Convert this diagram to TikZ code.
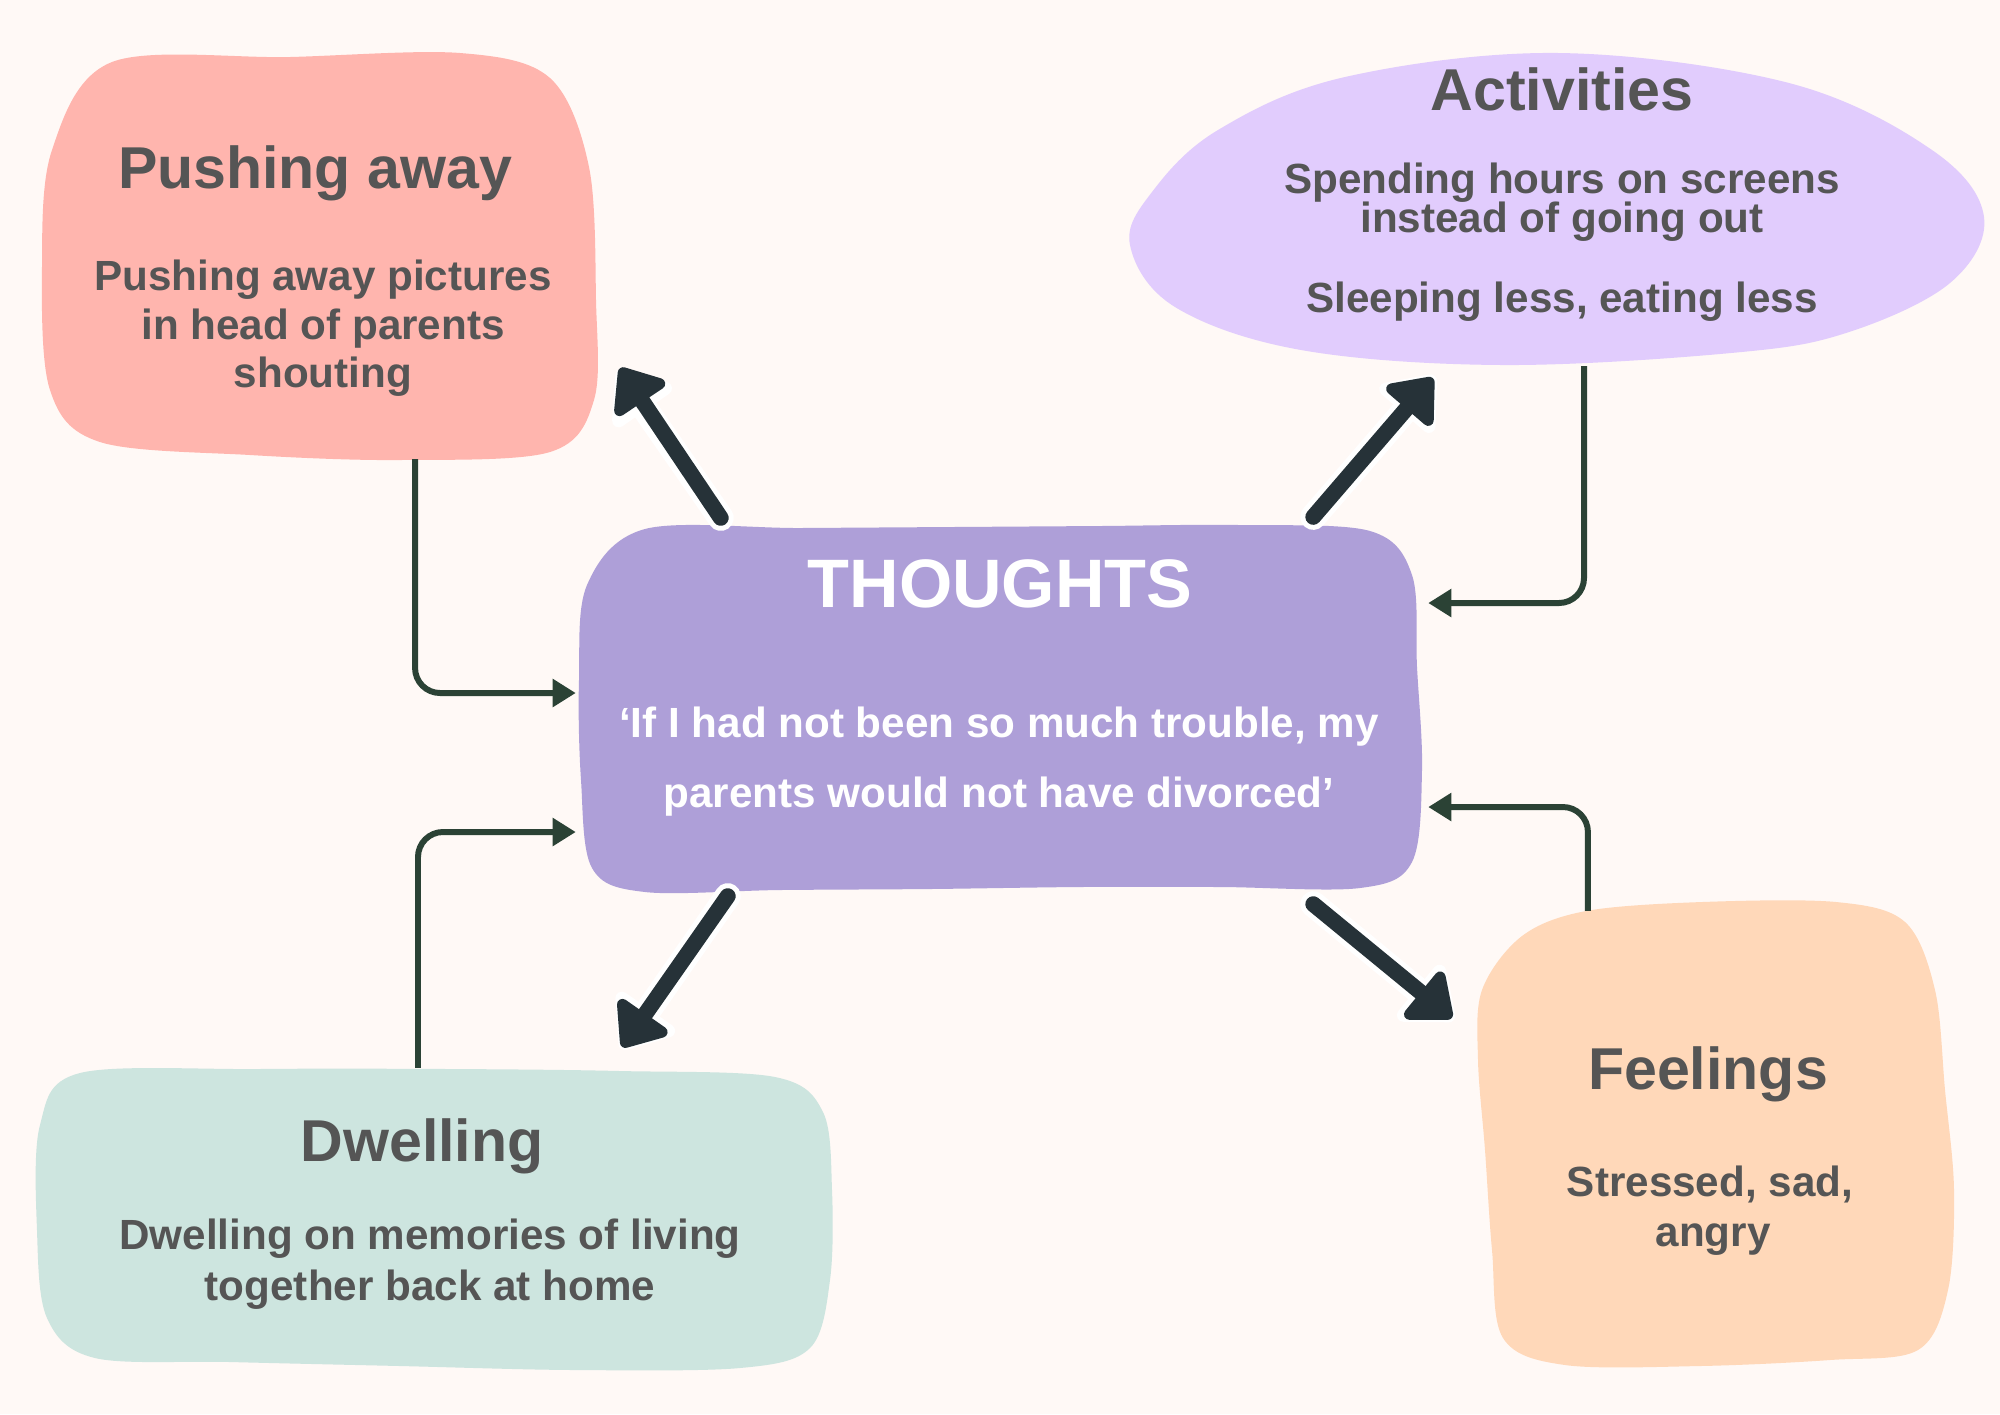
\documentclass[tikz,border=0pt]{standalone}
\usepackage{fontspec}
\setmainfont{Liberation Sans}
\usetikzlibrary{arrows.meta}
\definecolor{bgc}{HTML}{FFF9F6}
\definecolor{pushc}{HTML}{FFB5AE}
\definecolor{actc}{HTML}{E1CCFD}
\definecolor{thouc}{HTML}{AE9FD8}
\definecolor{dwelc}{HTML}{CDE5DF}
\definecolor{feelc}{HTML}{FFD8B9}
\definecolor{txtc}{HTML}{555555}
\definecolor{arrc}{HTML}{263238}
\definecolor{linec}{HTML}{2B4235}
\begin{document}
\begin{tikzpicture}[x=0.01cm,y=-0.01cm,
  area/.style={draw=none,fill=none,inner sep=0pt,outer sep=0pt,rectangle},
  blob/.style={smooth cycle,tension=0.55},
  ttl/.style={anchor=base,inner sep=0pt,text=txtc,font=\fontsize{16.8}{20}\selectfont\bfseries},
  bod/.style={anchor=base,inner sep=0pt,text=txtc,font=\fontsize{12}{14}\selectfont\bfseries},
  link/.style={draw=linec,line width=1.7pt,rounded corners=0.25cm,-{Triangle[length=6.6pt,width=7.7pt]}},
  halo/.style={draw=white,line width=7.4pt,line cap=round,-{Triangle[length=15pt,width=23pt,round]}},
  bigarrow/.style={draw=arrc,line width=4.5pt,line cap=round,-{Triangle[length=12.5pt,width=19.5pt,round]}}
]
\useasboundingbox (0,0) rectangle (2000,1414);
\fill[bgc] (0,0) rectangle (2000,1414);

% blob shapes
\fill[pushc] plot[blob] coordinates {(112,62) (290,57) (460,53) (550,78) (589,167) (596,300) (594,400) (550,452) (400,460) (250,455) (100,442) (50,390) (42,267) (52,150)};
\fill[actc] plot[smooth cycle,tension=0.6] coordinates {(1559,53) (1789,83) (1932,150) (1984,217) (1950,283) (1846,333) (1731,353) (1502,365) (1301,350) (1175,307) (1130,245) (1152,192) (1218,130) (1345,77)};
\fill[thouc] plot[blob] coordinates {(645,529) (800,528) (952,527) (1100,526) (1239,525) (1370,531) (1412,575) (1417,667) (1422,770) (1412,862) (1360,888) (1220,887) (1080,887) (930,889) (780,890) (645,892) (592,868) (581,780) (579,680) (587,585)};
\fill[dwelc] plot[blob] coordinates {(80,1073) (258,1069) (450,1069) (620,1071) (775,1077) (823,1112) (832,1190) (830,1280) (810,1348) (740,1368) (574,1370) (400,1366) (230,1362) (95,1358) (47,1318) (37,1230) (40,1125)};
\fill[feelc] plot[blob] coordinates {(1586,911) (1702,902) (1836,902) (1905,922) (1935,990) (1945,1090) (1954,1190) (1948,1290) (1918,1350) (1830,1360) (1700,1366) (1565,1365) (1503,1338) (1492,1250) (1485,1150) (1478,1060) (1482,990) (1522,936)};

% box areas (for anchoring)
\node[area,minimum width=5.54cm,minimum height=4.06cm] (push) at (319,256) {};
\node[area,minimum width=8.54cm,minimum height=3.13cm] (act) at (1557,209.5) {};
\node[area,minimum width=8.44cm,minimum height=3.68cm] (thou) at (1001,709) {};
\node[area,minimum width=7.96cm,minimum height=3.01cm] (dwel) at (434,1219.5) {};
\node[area,minimum width=4.79cm,minimum height=4.64cm] (feel) at (1714.5,1134) {};

% texts
\node[ttl] (pushT) at (315,188) {Pushing away};
\node[bod] (push1) at (323,290) {Pushing away pictures};
\node[bod] (push2) at (323,339) {in head of parents};
\node[bod] (push3) at (323,387) {shouting};

\node[ttl] (actT) at (1562,110) {Activities};
\node[bod] (act1) at (1562,193) {Spending hours on screens};
\node[bod] (act2) at (1562,232) {instead of going out};
\node[bod] (act3) at (1562,312) {Sleeping less, eating less};

\node[anchor=base,inner sep=0pt,text=white,font=\fontsize{19.5}{23}\selectfont\bfseries] (thouT) at (1000,607) {THOUGHTS};
\node[bod,text=white] (thou1) at (999,737) {‘If I had not been so much trouble, my};
\node[bod,text=white] (thou2) at (999,807) {parents would not have divorced’};

\node[ttl] (dwelT) at (422,1161) {Dwelling};
\node[bod] (dwel1) at (430,1249) {Dwelling on memories of living};
\node[bod] (dwel2) at (430,1300) {together back at home};

\node[ttl] (feelT) at (1708,1089) {Feelings};
\node[bod] (feel1) at (1710,1196) {Stressed, sad,};
\node[bod] (feel2) at (1713,1246) {angry};

% thin connectors
\draw[link] ([xshift=0.96cm]push.south) |- ([shift={(-3,-16)}]thou.west);
\draw[link] ([xshift=0.27cm]act.south) |- ([shift={(5,-106)}]thou.east);
\draw[link] ([xshift=-0.16cm,yshift=0.01cm]dwel.north) |- ([shift={(-3,123)}]thou.west);
\draw[link] ([xshift=-1.265cm,yshift=-0.09cm]feel.north) |- ([shift={(5,98)}]thou.east);

% thick arrows
\draw[halo] ([shift={(142,-7)}]thou.north west) -- ([shift={(22,-89)}]push.south east);
\draw[bigarrow] ([shift={(142,-7)}]thou.north west) -- ([shift={(24,-91)}]push.south east);
\draw[halo] ([shift={(-110,-8)}]thou.north east) -- ([shift={(305,10)}]act.south west);
\draw[bigarrow] ([shift={(-110,-8)}]thou.north east) -- ([shift={(303,12)}]act.south west);
\draw[halo] ([shift={(149,3)}]thou.south west) -- ([shift={(-211,-20)}]dwel.north east);
\draw[bigarrow] ([shift={(149,3)}]thou.south west) -- ([shift={(-210,-22)}]dwel.north east);
\draw[halo] ([shift={(-110,11)}]thou.south east) -- ([shift={(-21,118)}]feel.north west);
\draw[bigarrow] ([shift={(-110,11)}]thou.south east) -- ([shift={(-23,116)}]feel.north west);
\end{tikzpicture}
\end{document}
